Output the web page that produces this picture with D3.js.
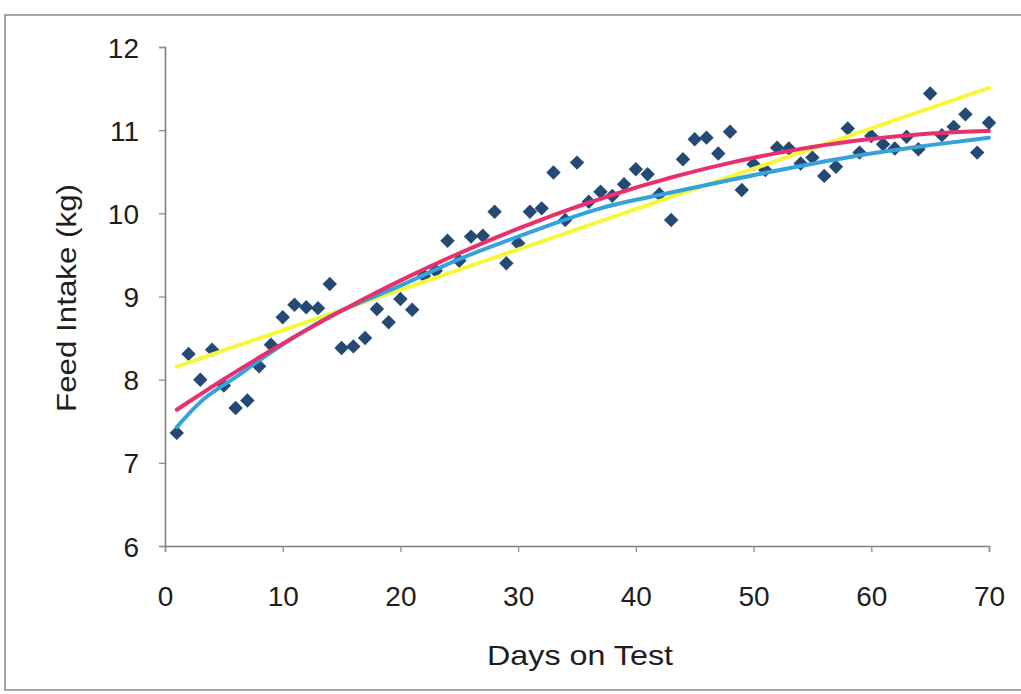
<!DOCTYPE html>
<html>
<head>
<meta charset="utf-8">
<script src="https://cdn.jsdelivr.net/npm/d3@7"></script>
<style>
  html, body { margin: 0; padding: 0; background: #fff; }
  svg { display: block; }
  text { font-family: "Liberation Sans", Arial, sans-serif; fill: #1e1e1e; }
</style>
</head>
<body>
<svg id="chart" width="1021" height="694"></svg>
<script>
// ---- data ----
const days = d3.range(1, 71);
const feedIntake = [
  7.36, 8.31, 8.00, 8.36, 7.93, 7.66, 7.75, 8.16, 8.42, 8.75,
  8.90, 8.87, 8.86, 9.15, 8.38, 8.40, 8.50, 8.85, 8.69, 8.97,
  8.84, 9.25, 9.31, 9.67, 9.43, 9.72, 9.73, 10.02, 9.40, 9.64,
  10.02, 10.06, 10.49, 9.92, 10.61, 10.14, 10.26, 10.21, 10.35, 10.53,
  10.47, 10.23, 9.92, 10.65, 10.89, 10.91, 10.72, 10.98, 10.28, 10.59,
  10.52, 10.79, 10.78, 10.60, 10.67, 10.45, 10.56, 11.02, 10.73, 10.93,
  10.83, 10.78, 10.92, 10.77, 11.44, 10.94, 11.04, 11.19, 10.73, 11.09
];
// blue model curve at these days
const blueCurveDays   = [1, 3, 6, 9, 14, 20, 25, 30, 37, 43, 48, 54, 60, 65, 70];
const blueCurveValues = [7.43, 7.73, 8.03, 8.33, 8.76, 9.13, 9.45, 9.72, 10.06, 10.25, 10.40, 10.57, 10.72, 10.82, 10.91];
const xTicks = [0, 10, 20, 30, 40, 50, 60, 70];
const yTicks = [6, 7, 8, 9, 10, 11, 12];
const xTitle = "Days on Test";
const yTitle = "Feed Intake (kg)";

// ---- trendlines (least squares fits of the data) ----
function solve(A, b) {
  const n = b.length;
  const M = A.map((r, i) => r.concat([b[i]]));
  for (let i = 0; i < n; i++) {
    let p = i;
    for (let k = i + 1; k < n; k++) if (Math.abs(M[k][i]) > Math.abs(M[p][i])) p = k;
    [M[i], M[p]] = [M[p], M[i]];
    for (let k = i + 1; k < n; k++) {
      const f = M[k][i] / M[i][i];
      for (let j = i; j <= n; j++) M[k][j] -= f * M[i][j];
    }
  }
  const x = new Array(n).fill(0);
  for (let i = n - 1; i >= 0; i--) {
    let s = M[i][n];
    for (let j = i + 1; j < n; j++) s -= M[i][j] * x[j];
    x[i] = s / M[i][i];
  }
  return x;
}
function fit(basis) {
  const m = basis(1).length;
  const A = d3.range(m).map(() => new Array(m).fill(0));
  const b = new Array(m).fill(0);
  days.forEach((d, i) => {
    const f = basis(d);
    for (let r = 0; r < m; r++) {
      b[r] += f[r] * feedIntake[i];
      for (let c = 0; c < m; c++) A[r][c] += f[r] * f[c];
    }
  });
  const coef = solve(A, b);
  return d => d3.sum(basis(d).map((v, k) => v * coef[k]));
}
const s = d => d / 70;
const linearFit = fit(d => [1, d]);
const polyFit = fit(d => [1, s(d), s(d) ** 2]);

// ---- layout ----
const svg = d3.select("#chart");
const x = d3.scaleLinear().domain([0, 70]).range([165, 989]);
const y = d3.scaleLinear().domain([6, 12]).range([546, 47]);

// outer frame
svg.append("rect")
  .attr("x", 5).attr("y", 15).attr("width", 1040).attr("height", 675)
  .attr("fill", "none").attr("stroke", "#8a8a8a").attr("stroke-width", 1.5);

// axes
const xAxis = svg.append("g").attr("transform", `translate(0,${y(6)})`)
  .call(d3.axisBottom(x).tickValues(xTicks).tickSize(6).tickPadding(34).tickFormat(d3.format("d")));
const yAxis = svg.append("g").attr("transform", `translate(${x(0)},0)`)
  .call(d3.axisLeft(y).tickValues(yTicks).tickSize(6).tickPadding(20).tickFormat(d3.format("d")));
[xAxis, yAxis].forEach(g => {
  g.selectAll("path").attr("stroke", "#808080").attr("stroke-width", 1.6);
  g.selectAll("line").attr("stroke", "#909090").attr("stroke-width", 1.3);
  g.selectAll("text").attr("font-size", 28).attr("fill", "#1e1e1e")
    .style("font-family", "'Liberation Sans', Arial, sans-serif");
});
yAxis.selectAll("text").attr("dy", "0.36em");

// axis titles
svg.append("text")
  .attr("x", 580).attr("y", 665)
  .attr("text-anchor", "middle").attr("font-size", 28)
  .attr("textLength", 186).attr("lengthAdjust", "spacingAndGlyphs")
  .text(xTitle);
svg.append("text")
  .attr("transform", "translate(76,298) rotate(-90)")
  .attr("text-anchor", "middle").attr("font-size", 28)
  .attr("textLength", 228).attr("lengthAdjust", "spacingAndGlyphs")
  .text(yTitle);

// data points (diamonds)
const diamond = d3.symbol().type(d3.symbolSquare).size(104);
svg.append("g").selectAll("path")
  .data(days.map((d, i) => [d, feedIntake[i]]))
  .join("path")
  .attr("d", diamond)
  .attr("transform", d => `translate(${x(d[0])},${y(d[1])}) rotate(45)`)
  .attr("fill", "#244a74");

// trendlines
const fnLine = fn => d3.line().x(d => x(d)).y(d => y(fn(d))).curve(d3.curveBasis)(days);
const blueLine = d3.line().x(d => x(d[0])).y(d => y(d[1])).curve(d3.curveMonotoneX)(
  blueCurveDays.map((d, i) => [d, blueCurveValues[i]]));
const trends = [
  { d: fnLine(linearFit), color: "#f7f73a" },
  { d: blueLine, color: "#36a2dc" },
  { d: fnLine(polyFit), color: "#e8306f" }
];
svg.append("g").selectAll("path")
  .data(trends)
  .join("path")
  .attr("d", t => t.d)
  .attr("fill", "none")
  .attr("stroke", t => t.color)
  .attr("stroke-width", 4)
  .attr("stroke-linecap", "round");
</script>
</body>
</html>
